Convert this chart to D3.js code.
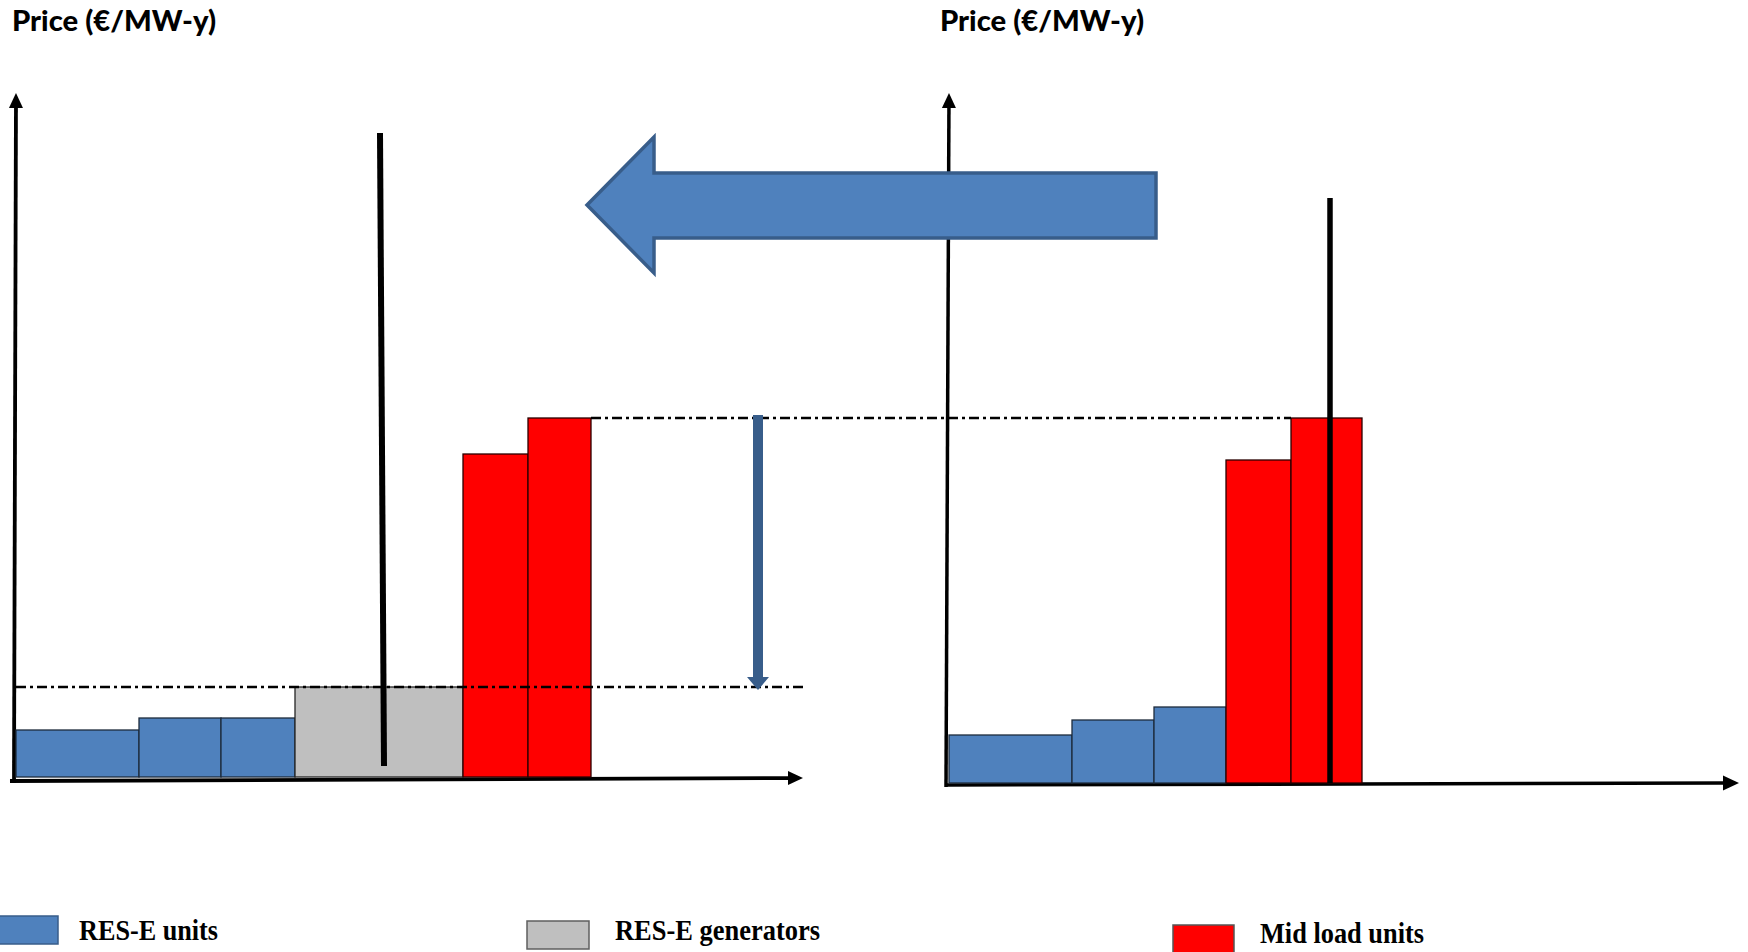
<!DOCTYPE html>
<html><head><meta charset="utf-8">
<script src="https://cdn.jsdelivr.net/npm/d3@7"></script>
<style>html,body{margin:0;padding:0;background:#fff;overflow:hidden}</style>
</head><body>
<svg id="c" width="1748" height="952"></svg>
<script>
// ---------- DATA ----------
const axisTitle = "Price (€/MW-y)";
// Left panel: merit order after RES-E support (capacity in MW units, price in €/MW-y units)
const leftTypes    = ["res", "res", "res", "gen", "mid", "mid"];
const leftCapacity = [123, 82, 74, 168, 65, 63];
const leftPrice    = [47, 59, 59, 90, 323, 359];
const leftDemandQ  = [364, 368];   // demand line position (top, bottom)
const leftDemandP  = [644, 11];    // demand line price span (top, bottom)
// Right panel: merit order before
const rightTypes    = ["res", "res", "res", "mid", "mid"];
const rightCapacity = [123, 82, 72, 65, 71];
const rightPrice    = [48, 63, 76, 323, 365];
const rightDemandQ  = [381, 381];
const rightDemandP  = [585, 0];
// Legend
const legendLabels = ["RES-E units", "RES-E generators", "Mid load units"];
const legendTypes  = ["res", "gen", "mid"];

// ---------- STYLE ----------
const fillOf   = {res: "#4f81bd", gen: "#bfbfbf", mid: "#ff0000"};
const strokeOf = {res: "#1e2b3c", gen: "#262626", mid: "#2a0000"};
const legStroke = {res: "#385d8a", gen: "#5f5f5f", mid: "#555555"};

const svg = d3.select("#c");

// scales
const xL = d3.scaleLinear().domain([0, 790]).range([16, 806]);
const yL = d3.scaleLinear().domain([0, 700]).range([777, 77]);
const xR = d3.scaleLinear().domain([0, 790]).range([949, 1739]);
const yR = d3.scaleLinear().domain([0, 700]).range([783, 83]);

function arrow(g, x1, y1, x2, y2, w, hl, hw, color) {
  const dx = x2 - x1, dy = y2 - y1, L = Math.hypot(dx, dy);
  const ux = dx / L, uy = dy / L, px = -uy, py = ux;
  const bx = x2 - ux * hl, by = y2 - uy * hl;
  g.append("line").attr("x1", x1).attr("y1", y1).attr("x2", bx + ux).attr("y2", by + uy)
    .attr("stroke", color).attr("stroke-width", w);
  g.append("polygon").attr("points", [
    [x2, y2], [bx + px * hw / 2, by + py * hw / 2], [bx - px * hw / 2, by - py * hw / 2]
  ].map(p => p.join(",")).join(" ")).attr("fill", color);
}

// titles
[[12, axisTitle], [940, axisTitle]].forEach(([x, t]) => {
  svg.append("text").attr("x", x).attr("y", 31).text(t)
    .attr("font-family", "Lato, 'Open Sans', sans-serif").attr("font-weight", 900)
    .attr("font-size", 29).attr("textLength", 204).attr("lengthAdjust", "spacingAndGlyphs")
    .attr("fill", "#000");
});

const axes = svg.append("g");
// left axes
arrow(axes, 14, 783, 16, 93, 3.8, 15, 14, "#000");
arrow(axes, 10, 781, 803, 778, 3.8, 15, 14, "#000");
// right axes
arrow(axes, 946, 787, 949, 93, 3.5, 15, 14, "#000");
arrow(axes, 945, 785, 1739, 783, 3.5, 16, 15, "#000");

function bars(types, cap, price, x, y) {
  const ends = Array.from(d3.cumsum(cap));
  const starts = ends.map((e, i) => e - cap[i]);
  svg.append("g").selectAll("rect").data(types).join("rect")
    .attr("x", (d, i) => x(starts[i]))
    .attr("width", (d, i) => x(ends[i]) - x(starts[i]))
    .attr("y", (d, i) => y(price[i]))
    .attr("height", (d, i) => y(0) - y(price[i]))
    .attr("fill", d => fillOf[d])
    .attr("stroke", d => strokeOf[d])
    .attr("stroke-width", 1.3);
  return {starts, ends};
}
const L = bars(leftTypes, leftCapacity, leftPrice, xL, yL);
const R = bars(rightTypes, rightCapacity, rightPrice, xR, yR);

// reference dash-dot lines
const dash = "10,4,3,4";
const maxLeft = d3.max(leftPrice);
const genPrice = leftPrice[leftTypes.indexOf("gen")];
svg.append("line")
  .attr("x1", xL(L.ends[L.ends.length - 1])).attr("x2", xR(R.starts[R.starts.length - 1]))
  .attr("y1", yL(maxLeft)).attr("y2", yL(maxLeft))
  .attr("stroke", "#000").attr("stroke-width", 2.6).attr("stroke-dasharray", dash);
svg.append("line")
  .attr("x1", xL(0)).attr("x2", 803)
  .attr("y1", yL(genPrice)).attr("y2", yL(genPrice))
  .attr("stroke", "#000").attr("stroke-width", 2.6).attr("stroke-dasharray", dash);

// demand lines
svg.append("line").attr("x1", xL(leftDemandQ[0])).attr("x2", xL(leftDemandQ[1]))
  .attr("y1", yL(leftDemandP[0])).attr("y2", yL(leftDemandP[1]))
  .attr("stroke", "#000").attr("stroke-width", 6);
svg.append("line").attr("x1", xR(rightDemandQ[0])).attr("x2", xR(rightDemandQ[1]))
  .attr("y1", yR(rightDemandP[0])).attr("y2", yR(rightDemandP[1]))
  .attr("stroke", "#000").attr("stroke-width", 5.5);

// price drop arrow
arrow(svg.append("g"), 758, yL(maxLeft) - 3, 758, yL(genPrice) + 3, 10, 13, 22, "#385d8a");

// big left-pointing arrow
svg.append("polygon")
  .attr("points", [[587, 205], [654, 137], [654, 173], [1156, 173], [1156, 238], [654, 238], [654, 273]]
    .map(p => p.join(",")).join(" "))
  .attr("fill", "#4f81bd").attr("stroke", "#385d8a").attr("stroke-width", 3.5)
  .attr("stroke-linejoin", "miter");

// legend
const legPos = [
  {rx: -2, ry: 916, rw: 60, rh: 28, tx: 79, ty: 940, tl: 139},
  {rx: 527, ry: 921, rw: 62, rh: 28, tx: 615, ty: 940, tl: 205},
  {rx: 1173, ry: 925, rw: 61, rh: 30, tx: 1260, ty: 943, tl: 164}
];
const leg = svg.append("g");
legendLabels.forEach((lab, i) => {
  const p = legPos[i], t = legendTypes[i];
  leg.append("rect").attr("x", p.rx).attr("y", p.ry).attr("width", p.rw).attr("height", p.rh)
    .attr("fill", fillOf[t]).attr("stroke", legStroke[t]).attr("stroke-width", 1.5);
  leg.append("text").attr("x", p.tx).attr("y", p.ty).text(lab)
    .attr("font-family", "'Liberation Serif', 'Times New Roman', serif").attr("font-weight", 700)
    .attr("font-size", 30).attr("textLength", p.tl).attr("lengthAdjust", "spacingAndGlyphs")
    .attr("fill", "#000");
});
</script>
</body></html>
